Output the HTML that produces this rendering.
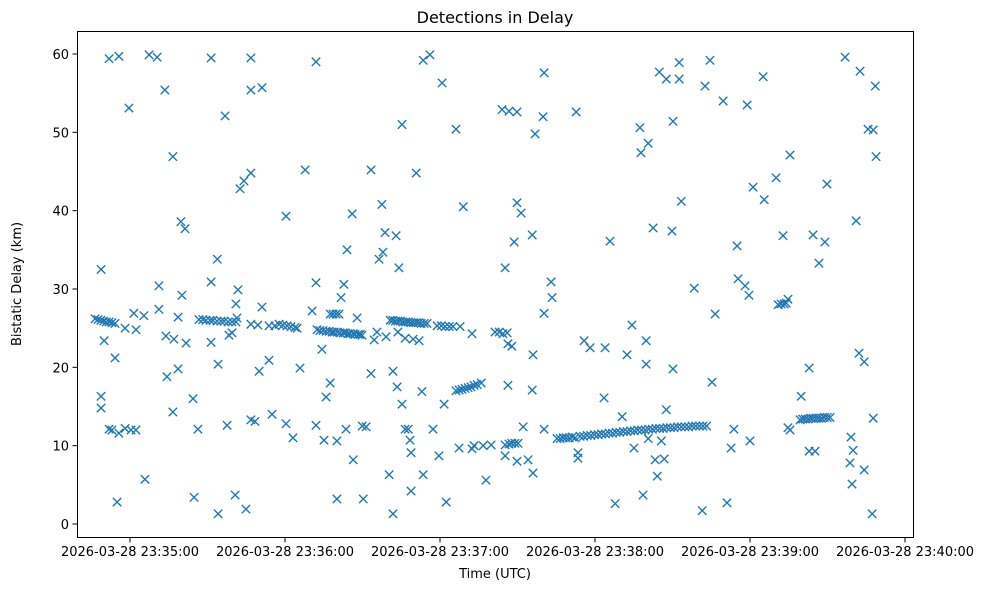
<!DOCTYPE html>
<html><head><meta charset="utf-8"><style>
body{margin:0;background:#fff;}
svg text{font-family:"DejaVu Sans","Liberation Sans",sans-serif;fill:#000;}
</style></head><body>
<svg id="chart" width="989" height="590" xmlns="http://www.w3.org/2000/svg">
<rect width="989" height="590" fill="#fff"/>
<text x="495" y="23" font-size="16" text-anchor="middle">Detections in Delay</text>
<text x="495" y="578" font-size="13" text-anchor="middle">Time (UTC)</text>
<text transform="translate(21,284) rotate(-90)" font-size="13" text-anchor="middle">Bistatic Delay (km)</text>
<g id="marks"></g>
<g id="axes"></g>
<rect x="77.5" y="31.5" width="836" height="506" fill="none" stroke="#000" stroke-width="1"/>
</svg>
<script>
// seconds relative to 2026-03-28 23:35:00, delay in km
const xTickSecs=[0,60,120,180,240,300];
const xTickLabels=["2026-03-28 23:35:00","2026-03-28 23:36:00","2026-03-28 23:37:00","2026-03-28 23:38:00","2026-03-28 23:39:00","2026-03-28 23:40:00"];
const yTicks=[0,10,20,30,40,50,60];
const scatterTimes=[-11.2,-11.2,-11.2,-10,-8.1,-4.3,-5.8,-8.1,-7,-5,-4.3,-1.9,-0.4,-1.9,0.4,2.3,2.3,1.5,5.4,5.8,7.4,10.5,11.2,11.2,13.5,13.9,14.3,16.6,16.6,17,18.6,18.6,19.7,20.1,21.3,21.7,24.4,24.8,26.3,31.4,33.8,31.4,31.4,34.1,34.1,36.8,37.6,38.3,39.5,40.7,41,41.4,41.8,42.6,44.1,44.9,46.8,46.8,46.8,46.8,48.4,46.8,49.5,50,51.1,51.1,53.8,53.8,55,56.1,60.4,60.4,63.1,65.8,67.8,70.5,72,72,72,74.3,75.1,75.9,77.5,77.5,78.6,79.8,80.9,80.1,80.1,81.7,82.8,83.6,84,86,86.4,87.9,89.9,90.3,91.4,93.3,93.3,94.5,95.6,96.4,97.9,97.5,99.1,98.7,100.3,101.8,101.8,103,103.4,103.7,104.1,105.3,105.3,106.5,106.5,107.7,108.4,108.8,108.8,109.6,110.8,111.9,113,113.5,113.5,116.1,117.3,119.6,120.8,121.6,122.4,126.2,127.4,127.8,129,132.4,132.4,133.2,136.7,137.8,139.8,141.3,142.9,144.4,146,144,146.7,149.8,145.2,145.2,145.2,146.3,146.3,146.7,147.8,149,150.2,147.8,148.7,149.8,149.8,151.4,152.2,154.1,155.7,155.7,156,156,156.8,159.9,160.3,160.3,160.3,163,163.4,172.7,173.4,173.4,175.8,178.1,183.5,183.9,185.8,187.8,190.5,192.4,194.3,195.1,197.4,197.8,198.6,199.8,199.8,200.6,200.6,202.5,203.3,204.1,204.9,205.7,206.8,207.6,207.6,209.8,210.2,210.2,212.6,212.6,213.4,218.4,221.5,222.6,224.5,225.3,226.5,229.6,231.1,232.7,233.8,235,235.4,238.1,238.9,239.6,240,241.2,245.1,245.5,250.1,250.9,252,253.2,254,252.8,254.7,254.7,255.5,255.5,259.8,262.9,262.9,265.2,264.4,266.7,269,269.8,276.8,278.7,279.1,279.5,279.9,281.1,282.2,282.6,284.2,284.2,285.7,287.7,287.3,287.7,288.5,288.8];
const scatterDelays=[32.5,16.3,14.8,23.4,59.4,59.7,21.2,12.1,12,2.8,11.6,12.2,53.1,25,12,12,24.8,26.9,26.6,5.7,59.9,59.6,30.4,27.4,55.4,24,18.8,46.9,14.3,23.6,26.4,19.8,38.6,29.2,37.7,23.1,16,3.4,12.1,59.5,33.8,30.9,23.2,20.4,1.3,52.1,12.6,24.1,24.4,3.7,28.1,26.3,29.9,42.8,43.8,1.9,59.5,44.8,55.4,13.3,13.1,25.5,25.4,19.5,55.7,27.7,20.9,25.3,14,25.3,39.3,12.8,11,19.9,45.2,27.2,59,30.8,12.6,22.3,10.7,16.2,18,26.8,26.8,26.8,26.8,3.2,10.6,28.9,30.6,12.1,35,39.6,8.2,26.3,12.5,3.2,12.4,45.2,19.2,23.5,24.5,33.8,34.7,40.8,23.9,37.2,6.3,1.3,19.5,36.8,17.5,24.5,32.7,15.3,51,12.1,23.7,12.1,10.7,9.1,4.2,23.6,44.8,23.4,16.9,6.3,59.2,59.9,12.1,8.7,56.3,15.3,2.8,50.4,9.7,25.2,40.5,24.3,9.6,10,10,5.6,10.1,24.5,24.5,24.3,24.4,52.9,52.7,52.6,32.7,8.7,10.1,23,17.7,10.2,10.3,10.3,10.3,22.7,36,41,8,39.7,12.4,8.2,36.9,17.1,6.5,21.6,49.8,52,57.6,26.9,12.1,30.9,28.9,52.6,9.1,8.4,23.4,22.5,16.1,22.5,36.1,2.6,13.7,21.6,25.4,9.7,50.6,47.4,3.7,23.4,20.4,48.6,10.9,37.8,8.2,6.1,57.7,10.6,8.3,56.8,14.6,37.4,51.4,19.8,58.9,56.8,41.2,30.1,1.7,55.9,59.2,18.1,26.8,54,2.7,9.7,12.1,35.5,31.3,30.4,53.5,29.2,10.6,43,57.1,41.4,44.2,28,28.1,28.1,28.2,36.8,28.7,12.3,12,47.1,16.3,19.9,9.3,9.3,36.9,33.3,36,43.4,59.6,7.8,11.1,5.1,9.4,38.7,21.8,57.8,20.7,6.9,50.4,50.3,1.3,13.5,55.9,46.9];
const trackTimes=[-13.5,-12.4,-11.3,-10.2,-9.2,-8.1,-7.0,-5.8,26.7,28.2,29.4,31,32.1,33.7,35.2,36.4,38,39.5,41,57.7,59.2,60.8,62.3,63.9,64.7,72.4,73.5,74.7,75.9,77.1,78.2,79,80.2,81.3,82.5,83.3,84.4,85.2,86.4,87.1,88.3,89.1,89.8,100.7,101.7,102.7,103.7,104.7,105.7,106.7,107.7,108.7,109.7,110.7,111.7,112.7,113.9,115,118.9,120.5,122,123.6,125,126.2,127.4,128.5,129.7,130.9,132,133.2,134.4,136,165.3,166.5,167.7,168.8,170,171.2,172.3,174.2,175.6,177,178.4,179.8,181.2,182.6,184,185.4,186.8,188.2,189.6,191,192.4,193.8,195.2,196.6,198,199.4,200.8,202.2,203.6,205,206.4,207.8,209.2,210.6,212,213.4,214.8,216.2,217.6,219,220.4,221.8,223.2,259.4,260.4,261.4,262.5,263.5,264.5,265.6,266.6,267.7,268.8,269.9,271];
const trackDelays=[26.2,26.1,26.0,25.9,25.8,25.8,25.7,25.6,26.1,26.1,26.0,26.0,26.0,25.9,25.9,25.9,25.8,25.8,25.8,25.5,25.4,25.3,25.2,25.1,25.0,24.8,24.7,24.7,24.6,24.6,24.5,24.5,24.5,24.4,24.4,24.4,24.3,24.3,24.3,24.2,24.2,24.2,24.1,26.0,26.0,25.9,25.9,25.9,25.8,25.8,25.8,25.7,25.7,25.7,25.7,25.6,25.6,25.6,25.3,25.3,25.2,25.2,25.2,17.0,17.1,17.2,17.3,17.4,17.5,17.7,17.8,18.0,10.9,10.9,11.0,11.0,11.0,11.1,11.0,11.2,11.2,11.3,11.3,11.4,11.4,11.5,11.5,11.6,11.6,11.7,11.7,11.8,11.8,11.9,11.9,12.0,12.0,12.0,12.1,12.1,12.2,12.2,12.2,12.3,12.3,12.3,12.4,12.4,12.4,12.4,12.5,12.5,12.5,12.5,12.5,13.3,13.4,13.4,13.4,13.5,13.5,13.5,13.5,13.5,13.6,13.6,13.6];

const NS="http://www.w3.org/2000/svg";
function xs(t){return 130+t*155/60;}
function ys(d){return 524-d*470/60;}
const marks=document.getElementById('marks');
function drawX(t,d){
  const x=xs(t),y=ys(d),r=4.2;
  const p=document.createElementNS(NS,'path');
  p.setAttribute('d',`M${x-r},${y-r}L${x+r},${y+r}M${x-r},${y+r}L${x+r},${y-r}`);
  p.setAttribute('stroke','#1f77b4');p.setAttribute('stroke-width','1.4');p.setAttribute('fill','none');
  
  
  marks.appendChild(p);
}
scatterTimes.forEach((t,i)=>drawX(t,scatterDelays[i]));
trackTimes.forEach((t,i)=>drawX(t,trackDelays[i]));
const axes=document.getElementById('axes');
xTickSecs.forEach((s,i)=>{
  const x=xs(s);
  const l=document.createElementNS(NS,'line');
  l.setAttribute('x1',x);l.setAttribute('x2',x);l.setAttribute('y1',537.5);l.setAttribute('y2',542.5);l.setAttribute('stroke','#000');
  
  
  axes.appendChild(l);
  const tx=document.createElementNS(NS,'text');
  tx.setAttribute('x',x);tx.setAttribute('y',556);tx.setAttribute('font-size','13');tx.setAttribute('text-anchor','middle');
  tx.textContent=xTickLabels[i];
  
  
  axes.appendChild(tx);
});
yTicks.forEach(v=>{
  const y=ys(v);
  const l=document.createElementNS(NS,'line');
  l.setAttribute('x1',72.5);l.setAttribute('x2',77.5);l.setAttribute('y1',y);l.setAttribute('y2',y);l.setAttribute('stroke','#000');
  
  
  axes.appendChild(l);
  const tx=document.createElementNS(NS,'text');
  tx.setAttribute('x',69);tx.setAttribute('y',y+5);tx.setAttribute('font-size','13');tx.setAttribute('text-anchor','end');
  tx.textContent=v;
  
  
  axes.appendChild(tx);
});
</script>
</body></html>
